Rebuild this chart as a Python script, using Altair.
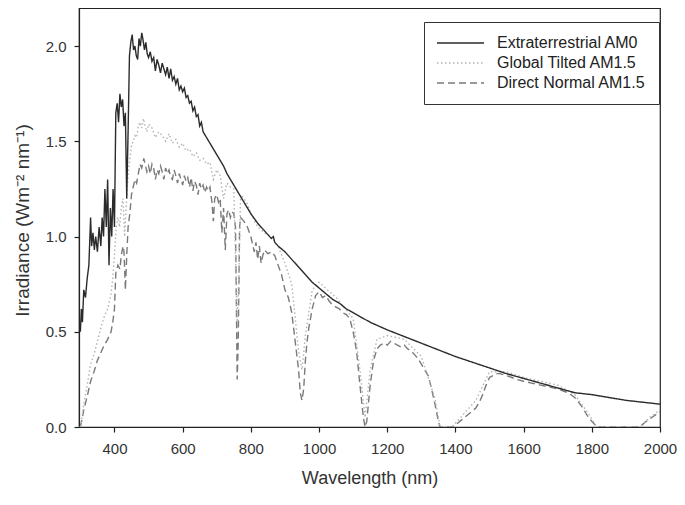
import altair as alt
import pandas as pd

series_names = ["Extraterrestrial AM0", "Global Tilted AM1.5", "Direct Normal AM1.5"]
x_ticks = [400, 600, 800, 1000, 1200, 1400, 1600, 1800, 2000]
y_ticks = [0.0, 0.5, 1.0, 1.5, 2.0]

am0_wl = [300, 303, 306, 310, 315, 320, 325, 330, 333, 337, 341, 345, 350, 355, 360, 364, 368, 372, 376, 380,
          384, 388, 392, 396, 400, 404, 408, 412, 416, 420, 424, 428, 432, 436, 440, 444, 448, 452, 456, 460,
          464, 468, 472, 476, 480, 484, 488, 492, 496, 500, 505, 510, 515, 520, 525, 530, 535, 540, 545, 550,
          555, 560, 565, 570, 575, 580, 585, 590, 595, 600, 605, 610, 615, 620, 625, 630, 635, 640, 645, 650,
          655, 660, 670, 680, 690, 700, 710, 720, 730, 740, 750, 760, 770, 780, 790, 800, 820, 840, 860, 866,
          870, 880, 900, 920, 940, 960, 980, 1000, 1020, 1040, 1060, 1080, 1100, 1150, 1200, 1250, 1300, 1350,
          1400, 1450, 1500, 1550, 1600, 1650, 1700, 1750, 1800, 1850, 1900, 1950, 2000]
am0_val = [0.50, 0.62, 0.55, 0.72, 0.68, 0.78, 0.85, 1.10, 0.95, 1.02, 0.93, 1.00, 0.92, 1.05, 0.95, 1.10, 1.00, 1.25, 1.05, 1.30,
           0.85, 1.15, 1.00, 1.25, 1.05, 1.65, 1.70, 1.60, 1.75, 1.68, 1.72, 1.58, 1.65, 1.20, 1.55, 1.95, 2.02, 2.06, 1.98, 2.00,
           1.95, 1.93, 2.04, 2.00, 2.07, 2.03, 1.98, 2.02, 1.96, 1.94, 1.97, 1.92, 1.94, 1.87, 1.93, 1.90, 1.86, 1.91, 1.88, 1.85,
           1.89, 1.83, 1.88, 1.82, 1.84, 1.80, 1.83, 1.77, 1.79, 1.76, 1.78, 1.73, 1.74, 1.70, 1.71, 1.66, 1.68, 1.63, 1.64, 1.58,
           1.60, 1.55, 1.52, 1.49, 1.46, 1.43, 1.40, 1.37, 1.33, 1.30, 1.27, 1.24, 1.21, 1.18, 1.15, 1.12, 1.07, 1.03, 0.99, 1.00,
           0.97, 0.95, 0.92, 0.88, 0.84, 0.80, 0.76, 0.73, 0.70, 0.67, 0.65, 0.62, 0.60, 0.55, 0.51, 0.475, 0.44, 0.405,
           0.37, 0.34, 0.31, 0.28, 0.255, 0.23, 0.205, 0.18, 0.17, 0.155, 0.14, 0.13, 0.12]

gt_wl = [300, 305, 310, 320, 330, 340, 350, 360, 370, 380, 390, 395, 400, 405, 410, 415, 420, 425, 430, 435,
         440, 445, 450, 455, 460, 465, 470, 475, 480, 485, 490, 495, 500, 510, 520, 530, 540, 550, 560, 570,
         580, 590, 600, 610, 620, 630, 640, 650, 660, 670, 680, 690, 700, 710, 720, 730, 740, 750, 760, 765,
         770, 780, 790, 800, 820, 840, 860, 880, 900, 920, 940, 950, 960, 980, 1000, 1050, 1100, 1120, 1135, 1150,
         1170, 1200, 1250, 1300, 1340, 1355, 1390, 1420, 1460, 1500, 1550, 1600, 1700, 1750, 1790, 1815, 1940, 1970, 2000]
gt_val = [0.0, 0.05, 0.12, 0.22, 0.33, 0.38, 0.45, 0.52, 0.58, 0.62, 0.70, 0.78, 0.90, 1.05, 1.10, 1.05, 1.15, 1.20, 1.00, 1.18,
          1.32, 1.40, 1.48, 1.50, 1.53, 1.52, 1.58, 1.60, 1.57, 1.62, 1.58, 1.55, 1.59, 1.57, 1.52, 1.55, 1.53, 1.50, 1.54, 1.49,
          1.51, 1.47, 1.49, 1.45, 1.46, 1.42, 1.44, 1.40, 1.41, 1.38, 1.39, 1.30, 1.35, 1.32, 1.20, 1.28, 1.26, 1.25, 0.55, 0.80,
          1.22, 1.20, 1.17, 1.12, 1.05, 1.02, 1.00, 0.95, 0.86, 0.75, 0.40, 0.30, 0.48, 0.72, 0.76, 0.68, 0.57, 0.30, 0.05, 0.30,
          0.46, 0.48, 0.46, 0.37, 0.15, 0.0, 0.0, 0.06, 0.14, 0.29, 0.29, 0.26, 0.22, 0.17, 0.07, 0.0, 0.0, 0.05, 0.09]

dn_wl = [300, 305, 310, 320, 330, 340, 350, 360, 370, 380, 390, 395, 400, 404, 410, 416, 420, 425, 428, 432,
         436, 440, 445, 450, 455, 460, 465, 470, 475, 480, 486, 490, 495, 500, 505, 510, 515, 520, 525, 530,
         535, 540, 545, 550, 555, 560, 565, 570, 575, 580, 585, 590, 595, 600, 605, 610, 615, 620, 625, 630,
         635, 640, 645, 650, 655, 660, 665, 670, 675, 680, 686, 690, 694, 700, 705, 710, 715, 720, 725, 730,
         735, 740, 745, 750, 755, 760, 763, 767, 770, 775, 780, 790, 800, 810, 815, 820, 825, 830, 835, 840,
         850, 860, 870, 880, 890, 900, 910, 920, 930, 940, 945, 950, 955, 960, 965, 970, 980, 990, 1000, 1010,
         1020, 1030, 1040, 1050, 1060, 1070, 1080, 1090, 1100, 1110, 1120, 1130, 1135, 1140, 1150, 1160, 1170, 1180, 1190, 1200,
         1210, 1220, 1230, 1240, 1250, 1260, 1270, 1280, 1290, 1300, 1310, 1320, 1330, 1340, 1350, 1355, 1390, 1400, 1420, 1440,
         1460, 1470, 1480, 1490, 1500, 1510, 1520, 1530, 1550, 1580, 1600, 1650, 1700, 1730, 1750, 1770, 1790, 1810, 1816, 1940,
         1960, 1980, 2000]
dn_val = [0.0, 0.04, 0.09, 0.16, 0.24, 0.29, 0.35, 0.39, 0.43, 0.46, 0.50, 0.55, 0.62, 0.81, 0.85, 0.83, 0.90, 0.95, 0.92, 0.72,
          0.90, 1.05, 1.12, 1.22, 1.26, 1.30, 1.28, 1.33, 1.38, 1.36, 1.41, 1.38, 1.34, 1.37, 1.33, 1.38, 1.36, 1.30, 1.35, 1.33,
          1.37, 1.34, 1.30, 1.36, 1.33, 1.35, 1.31, 1.30, 1.35, 1.32, 1.28, 1.33, 1.30, 1.27, 1.32, 1.29, 1.31, 1.26, 1.31, 1.24,
          1.29, 1.27, 1.22, 1.28, 1.25, 1.27, 1.23, 1.26, 1.24, 1.26, 1.18, 1.08, 1.20, 1.22, 1.18, 1.20, 1.02, 1.15, 0.93, 1.12,
          1.14, 1.10, 1.13, 1.12, 1.05, 0.25, 0.45, 1.05, 1.10, 1.09, 1.08, 1.05, 1.00, 0.92, 0.97, 0.88, 0.95, 0.86, 0.90, 0.93,
          0.91, 0.92, 0.90, 0.85, 0.80, 0.72, 0.68, 0.60, 0.45, 0.30, 0.18, 0.14, 0.20, 0.35, 0.45, 0.52, 0.62, 0.69, 0.71, 0.68,
          0.69, 0.66, 0.64, 0.63, 0.62, 0.60, 0.59, 0.57, 0.50, 0.40, 0.22, 0.05, 0.0, 0.03, 0.22, 0.35, 0.41, 0.43, 0.44, 0.43,
          0.45, 0.44, 0.43, 0.42, 0.43, 0.41, 0.40, 0.38, 0.36, 0.33, 0.30, 0.27, 0.20, 0.12, 0.03, 0.0, 0.0, 0.01, 0.04, 0.07,
          0.10, 0.13, 0.17, 0.22, 0.26, 0.27, 0.28, 0.28, 0.27, 0.25, 0.24, 0.22, 0.20, 0.18, 0.155, 0.11, 0.05, 0.01, 0.0, 0.0,
          0.03, 0.055, 0.08]

frames = []
for name, wl, val, order in [(series_names[2], dn_wl, dn_val, 0),
                             (series_names[1], gt_wl, gt_val, 1),
                             (series_names[0], am0_wl, am0_val, 2)]:
    frames.append(pd.DataFrame({"wavelength": wl, "irradiance": val, "series": name, "z": order}))
df = pd.concat(frames, ignore_index=True)

FONT = "Liberation Sans"

def make_legend():
    return alt.Legend(orient="none", legendX=345, legendY=14, title=None,
                      strokeColor="#333", fillColor="white", padding=13,
                      symbolType="M-1.6,0H7.8", symbolSize=100, symbolStrokeWidth=1.4,
                      labelFontSize=16, labelFont=FONT, labelColor="#222",
                      labelOffset=44, rowPadding=4)

chart = alt.Chart(df).mark_line(strokeWidth=1.4, clip=True).encode(
    x=alt.X("wavelength:Q",
            scale=alt.Scale(domain=[296, 2000], nice=False, zero=False),
            axis=alt.Axis(title="Wavelength (nm)", values=x_ticks, format="d", labelFlush=False,
                          titleY=51, titleBaseline="middle", labelPadding=9)),
    y=alt.Y("irradiance:Q",
            scale=alt.Scale(domain=[0, 2.2], nice=False),
            axis=alt.Axis(title="Irradiance (Wm⁻² nm⁻¹)", values=y_ticks, format=".1f",
                          titleX=-57, titleY=212, titleAngle=270, titleAlign="center",
                          titleBaseline="middle", labelPadding=8, titleFontSize=19)),
    color=alt.Color("series:N",
                    scale=alt.Scale(domain=series_names, range=["#2b2b2b", "#b4b4b4", "#7a7a7a"]),
                    legend=make_legend()),
    strokeDash=alt.StrokeDash("series:N",
                              scale=alt.Scale(domain=series_names, range=[[1, 0], [1.5, 2.5], [7, 4]]),
                              legend=make_legend()),
    order=alt.Order("z:Q"),
).properties(
    width=581, height=419,
    autosize=alt.AutoSizeParams(type="none"),
    padding={"left": 71, "top": 0, "right": 17, "bottom": 70},
    background="white",
).configure_axis(
    grid=False, domainColor="#222", tickColor="#222", tickSize=5, domainWidth=1.2, tickWidth=1.2,
    labelFont=FONT, labelFontSize=15, labelColor="#333",
    titleFont=FONT, titleFontSize=18, titleFontWeight="normal", titleColor="#333",
).configure_view(
    stroke="#222", strokeWidth=1.2
)

chart.save("out.html", embed_options={"renderer": "svg", "actions": False})
